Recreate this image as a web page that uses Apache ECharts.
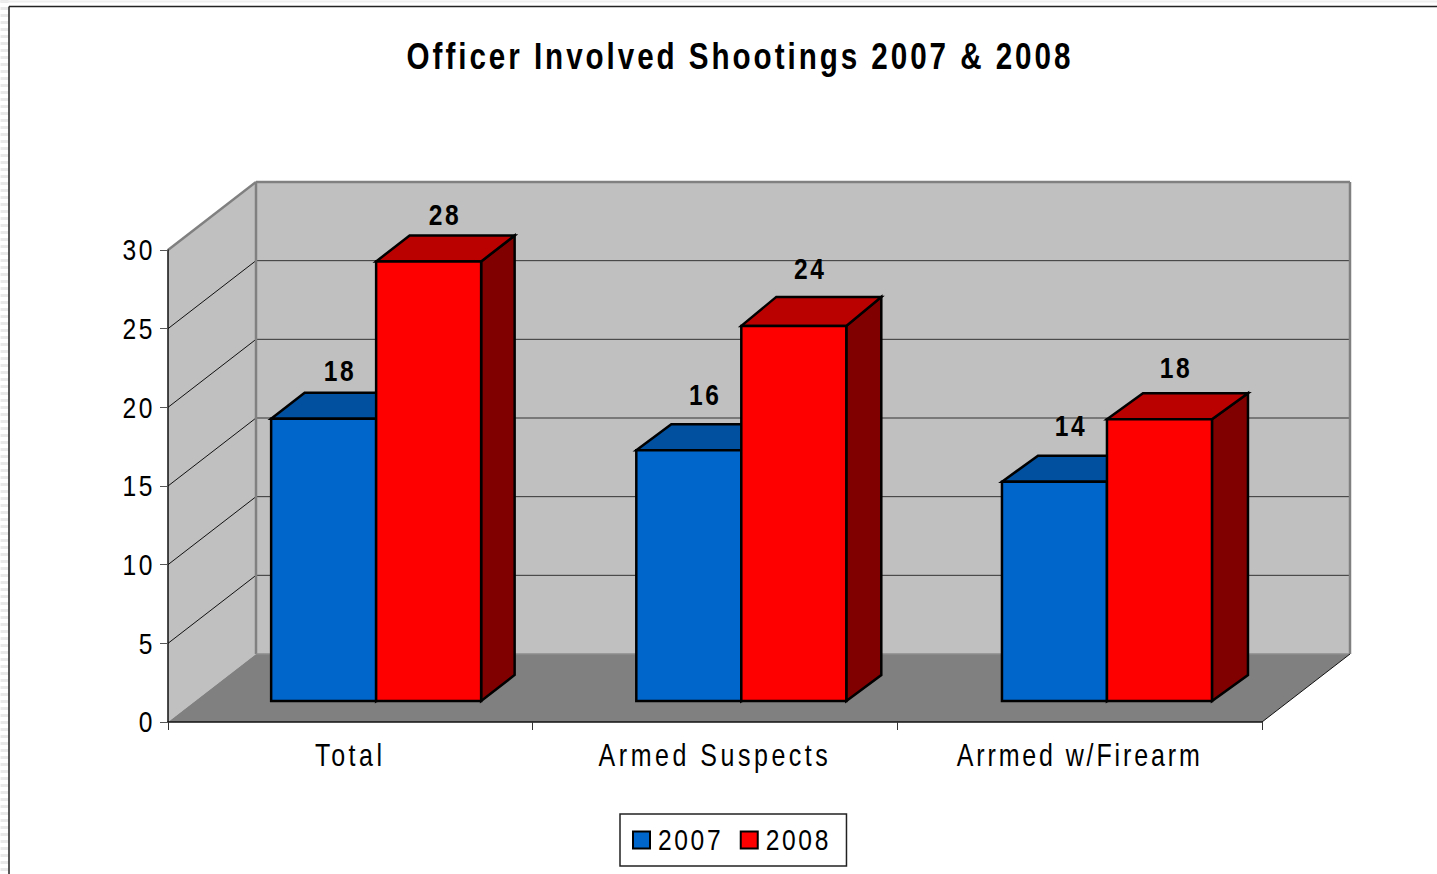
<!DOCTYPE html>
<html>
<head>
<meta charset="utf-8">
<style>
html,body{margin:0;padding:0;background:#fff;overflow:hidden}
#chart{width:1437px;height:874px}
</style>
<script src="https://cdn.jsdelivr.net/npm/echarts@6/dist/echarts.min.js"></script>
</head>
<body>
<div id="chart"></div>
<script>
const titleText = 'Officer Involved Shootings 2007 & 2008';
const categories = ['Total', 'Armed Suspects', 'Arrmed w/Firearm'];
const seriesNames = ['2007', '2008'];
const values2007 = [18, 16, 14];
const values2008 = [28, 24, 18];
const yTicks = [5, 10, 15, 20, 25];
const labelLift2007 = [48, 56, 56];
const labelLift2008 = [47, 57, 52];
const topNudge2007 = [1, 1, 1];
const topNudge2008 = [1, 2.5, 1.5];
const barShift = [-0.5, 0, 1];
const sideDepth = [33.5, 35, 36];
const topDepth2007 = [26, 26, 26];
const topDepth2008 = [26, 29, 26];

const FONT = '"Liberation Sans", Arial, sans-serif';
const WALL = [88, -68];      // depth of the chart box in pixels
const BAR_FRONT = [26.3, -21]; // bars stand this far behind the front plane
const BAR_BACK_Y = -26;
const BAR_W = 105;

function polygon(points, fill, stroke, lw) {
  return {type: 'polygon', shape: {points}, style: {fill, stroke: stroke || 'none', lineWidth: lw || 0, lineJoin: 'miter'}};
}
function line(a, b, stroke, lw) {
  return {type: 'line', shape: {x1: a[0], y1: a[1], x2: b[0], y2: b[1]}, style: {stroke, lineWidth: lw}};
}

function renderWalls(params, api) {
  const r = params.coordSys;
  const L = r.x, R = r.x + r.width, T = r.y, B = r.y + r.height;
  const bx = WALL[0], by = WALL[1];
  const kids = [
    polygon([[L, T], [L + bx, T + by], [L + bx, B + by], [L, B]], '#c0c0c0'),
    polygon([[L + bx, T + by], [R + bx, T + by], [R + bx, B + by], [L + bx, B + by]], '#c0c0c0'),
    polygon([[L, B], [L + bx, B + by], [R + bx, B + by], [R, B]], '#808080')
  ];
  yTicks.forEach(function (v) {
    const y = api.coord([0, v])[1];
    kids.push(line([L, y], [L + bx, y + by], '#111', 1));
    kids.push(line([L + bx, y + by], [R + bx, y + by], '#333', 1));
  });
  kids.push(line([L, T], [L + bx, T + by], '#808080', 2.5));
  kids.push(line([L + bx, T + by], [R + bx, T + by], '#808080', 2.5));
  kids.push(line([R + bx, T + by], [R + bx, B + by], '#808080', 2.5));
  kids.push(line([L + bx, T + by], [L + bx, B + by], '#808080', 2.5));
  kids.push(line([L + bx, B + by], [R + bx, B + by], '#8c8c8c', 1.5));
  kids.push(line([R, B], [R + bx, B + by], '#111', 1));
  return {type: 'group', children: kids};
}

function barRenderer(sign, front, top, side, lifts, nudges, topDepth) {
  return function (params, api) {
    const i = params.dataIndex;
    const idx = api.value(0), val = api.value(1);
    const c = api.coord([idx, val]);
    const base = api.coord([idx, 0]);
    const mid = c[0] + BAR_FRONT[0] + barShift[i];
    const x0 = sign < 0 ? mid - BAR_W : mid;
    const x1 = x0 + BAR_W;
    const yt = c[1] + BAR_FRONT[1] + nudges[i];
    const yb = base[1] + BAR_FRONT[1];
    const dx = sideDepth[i], dy = -topDepth[i];
    const k = '#000', w = 2.5;
    return {type: 'group', children: [
      polygon([[x1, yt], [x1 + dx, yt + dy], [x1 + dx, yb + BAR_BACK_Y], [x1, yb]], side, k, w),
      polygon([[x0, yt], [x0 + dx, yt + dy], [x1 + dx, yt + dy], [x1, yt]], top, k, w),
      polygon([[x0, yt], [x1, yt], [x1, yb], [x0, yb]], front, k, w),
      {type: 'text', style: {text: String(val), x: x0 + 69, y: yt - lifts[i], fill: '#000',
        font: 'bold 30px ' + FONT, align: 'center', verticalAlign: 'middle'}}
    ]};
  };
}

const chart = echarts.init(document.getElementById('chart'), null, {renderer: 'svg'});
chart.setOption({
  animation: false,
  backgroundColor: '#fff',
  title: {text: titleText, left: 735, top: 33, textAlign: 'center',
    textStyle: {fontFamily: FONT, fontSize: 37, fontWeight: 'bold', color: '#000'}},
  legend: {
    data: seriesNames, left: 620, top: 814, orient: 'horizontal',
    backgroundColor: '#fff', borderColor: '#222', borderWidth: 1.5, borderRadius: 0,
    padding: [11, 14, 11, 12], itemWidth: 17, itemHeight: 17, itemGap: 15, icon: 'rect',
    textStyle: {fontFamily: FONT, fontSize: 30, color: '#000', padding: [0, 0, 4, 3]},
    selectedMode: false
  },
  grid: {left: 168, top: 250, width: 1094, height: 472, containLabel: false},
  xAxis: {
    type: 'category', data: categories, z: 5,
    axisLine: {lineStyle: {color: '#111', width: 1.5}},
    axisTick: {show: true, length: 8, alignWithLabel: false, lineStyle: {color: '#333', width: 1}},
    axisLabel: {fontFamily: FONT, fontSize: 30.5, color: '#000', margin: 18, interval: 0},
    splitLine: {show: false}
  },
  yAxis: {
    type: 'value', min: 0, max: 30, interval: 5, z: 5,
    axisLine: {show: true, lineStyle: {color: '#111', width: 1.5}},
    axisTick: {show: true, length: 8, lineStyle: {color: '#555', width: 1}},
    axisLabel: {fontFamily: FONT, fontSize: 30, color: '#000', margin: 13},
    splitLine: {show: false}
  },
  graphic: [
    {type: 'line', silent: true, z: 10, shape: {x1: 4.5, y1: 0, x2: 4.5, y2: 874}, style: {stroke: '#e9e9e9', lineWidth: 8, lineDash: [3, 4]}},
    {type: 'line', silent: true, z: 10, shape: {x1: 0, y1: 1.5, x2: 1437, y2: 1.5}, style: {stroke: '#eeeeee', lineWidth: 2}},
    {type: 'line', silent: true, z: 10, shape: {x1: 9, y1: 6.5, x2: 9, y2: 874}, style: {stroke: '#222', lineWidth: 1.5}},
    {type: 'line', silent: true, z: 10, shape: {x1: 9, y1: 6.5, x2: 1437, y2: 6.5}, style: {stroke: '#222', lineWidth: 1.5}}
  ],
  series: [
    {type: 'custom', name: 'walls', z: 1, silent: true, renderItem: renderWalls, data: [[0, 0]], clip: false},
    {type: 'custom', name: seriesNames[0], z: 2, clip: false, itemStyle: {color: '#0066cc', borderColor: '#000', borderWidth: 2},
      renderItem: barRenderer(-1, '#0066cc', '#00509f', '#003366', labelLift2007, topNudge2007, topDepth2007),
      data: values2007.map(function (v, i) { return [i, v]; })},
    {type: 'custom', name: seriesNames[1], z: 3, clip: false, itemStyle: {color: '#ff0000', borderColor: '#000', borderWidth: 2},
      renderItem: barRenderer(1, '#ff0000', '#bb0000', '#800000', labelLift2008, topNudge2008, topDepth2008),
      data: values2008.map(function (v, i) { return [i, v]; })}
  ]
});

// The reference's text is horizontally squeezed and letter-spaced: apply that to the rendered SVG text.
function squeezeText() {
  document.querySelectorAll('#chart text').forEach(function (el) {
    if (el.getAttribute('data-squeezed')) return;
    const m = /([\d.]+)px/.exec(el.getAttribute('style') || '');
    const size = m ? parseFloat(m[1]) : 30;
    const s = size === 37 ? 0.8 : 0.82;
    let spacing = size === 37 ? 3.7 : size === 30.5 ? 4.3 : 3.2;
    if (el.textContent === categories[2]) spacing = 3.5;
    el.style.letterSpacing = spacing + 'px';
    const x = parseFloat(el.getAttribute('x') || 0);
    const base = el.transform.baseVal.consolidate();
    const v = base ? base.matrix : {a: 1, b: 0, c: 0, d: 1, e: 0, f: 0};
    const e = v.e + v.a * x * (1 - s);
    el.setAttribute('transform', 'matrix(' + (v.a * s) + ' ' + v.b + ' ' + v.c + ' ' + v.d + ' ' + e + ' ' + v.f + ')');
    el.setAttribute('data-squeezed', '1');
  });
}
squeezeText();
chart.on('finished', squeezeText);
</script>
</body>
</html>
